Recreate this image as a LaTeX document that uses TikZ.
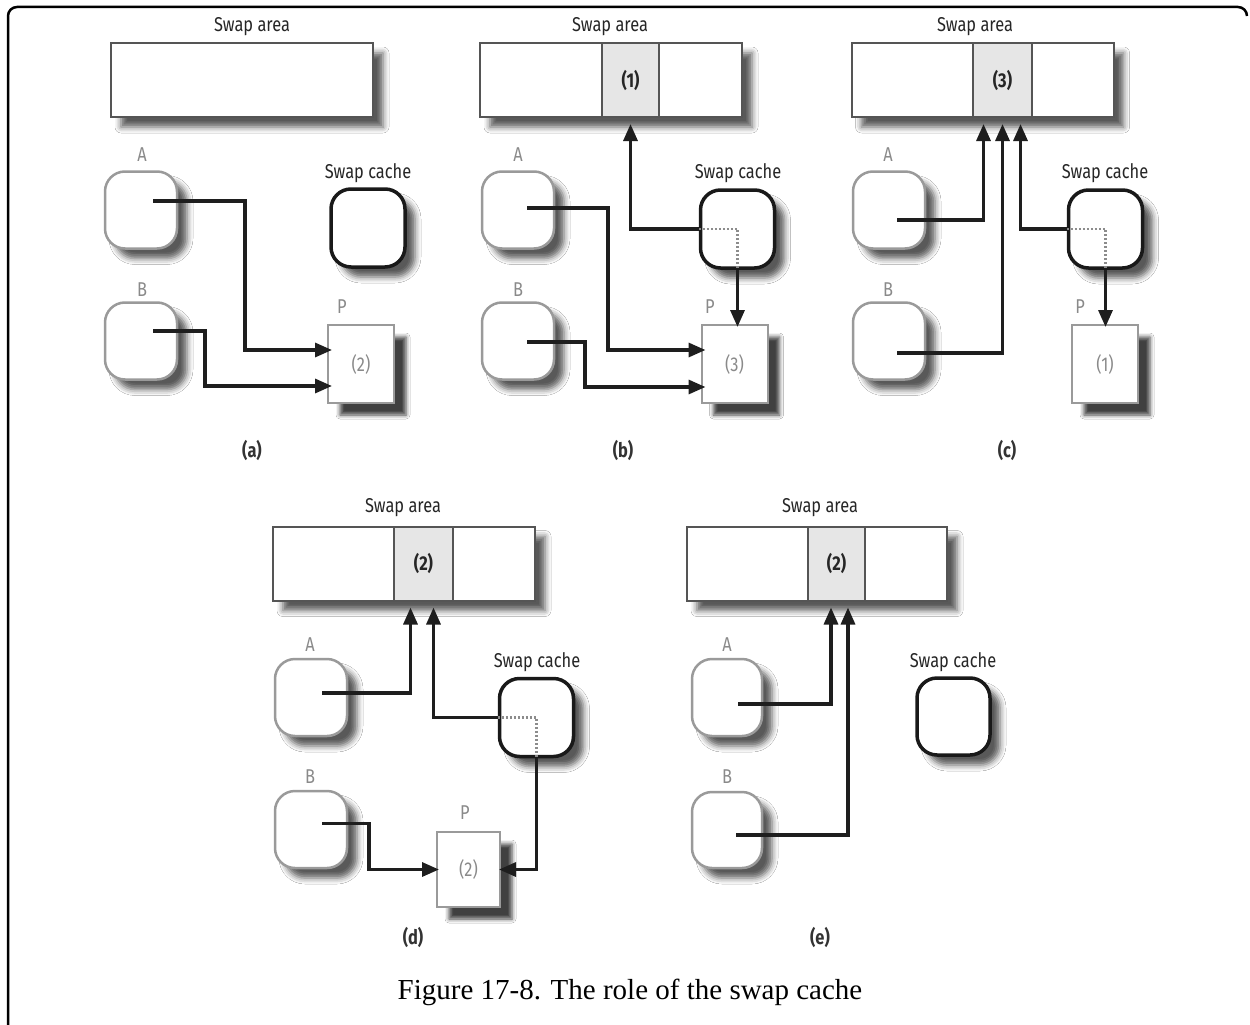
\documentclass[tikz,border=0pt]{standalone}
\usepackage{fontspec}
\usetikzlibrary{arrows.meta,calc,shadows.blur}
\newfontfamily\lblfont[FakeStretch=0.82]{Fira Sans}
\newfontfamily\capfont{Liberation Serif}
\definecolor{conncol}{HTML}{1E1E1E}
\definecolor{procol}{HTML}{9A9A9A}
\definecolor{areacol}{HTML}{555555}
\definecolor{slotcol}{HTML}{E6E6E6}
\definecolor{txtgray}{HTML}{8A8A8A}
\tikzset{
  lbl/.style={font=\lblfont\fontsize{20}{20}\selectfont, text=black!85, inner sep=0pt},
  glbl/.style={lbl, text=txtgray},
  plbl/.style={font=\lblfont\bfseries\fontsize{20}{20}\selectfont, text=black!80, inner sep=0pt},
  shad/.style={blur shadow={shadow xshift=10pt, shadow yshift=-10pt, shadow blur radius=6pt, shadow opacity=65}},
  proc/.style={shad, draw=procol, line width=2.5pt, rounded corners=20pt, fill=white, minimum width=72pt, minimum height=77pt, inner sep=0pt},
  cache/.style={shad, draw=black!90, line width=3.5pt, rounded corners=20pt, fill=white, minimum width=74pt, minimum height=78pt, inner sep=0pt},
  page/.style={blur shadow={shadow xshift=12pt, shadow yshift=-12pt, shadow blur radius=4pt, shadow opacity=75}, draw=procol, line width=2pt, fill=white, minimum width=66pt, minimum height=78pt, inner sep=0pt, font=\lblfont\fontsize{20}{20}\selectfont, text=txtgray},
  area/.style={shad, draw=areacol, line width=2pt, fill=white, minimum width=262pt, minimum height=74pt, inner sep=0pt},
  slot/.style={draw=areacol, line width=2pt, fill=slotcol, minimum height=74pt, inner sep=0pt, font=\lblfont\bfseries\fontsize{20}{20}\selectfont, text=black!85},
  conn/.style={line width=3.2pt, draw=conncol, -{Triangle[length=17pt,width=14pt]}},
  dots/.style={draw=black!45, line width=2.5pt, dash pattern=on 2pt off 2pt},
  frame/.style={line width=2.5pt, draw=black, rounded corners=9pt}
}
\begin{document}
\begin{tikzpicture}[x=1pt,y=-1pt]
\useasboundingbox (0,0) rectangle (1250,1025);
\fill[white] (0,0) rectangle (1250,1025);
\draw[frame] (8,1040) -- (8,7) -- (1247,7) -- (1247,16);

% ---------- (a)
\node[lbl] (aSAl) at (252,27) {Swap area};
\node[area] (aSA) at (242,80) {};
\node[glbl] (aAl) at (142,155) {A};
\node[proc] (aA) at (141,210) {};
\node[glbl] (aBl) at (142,290) {B};
\node[proc] (aB) at (141,341) {};
\node[lbl] (aSCl) at (368,173) {Swap cache};
\node[cache] (aSC) at (368,228) {};
\node[glbl] (aPl) at (342,307) {P};
\node[page] (aP) at (361,364) {(2)};
\draw[conn] ($(aA.center)+(12,-9)$) -| (245,350) -- ($(aP.west|-0,350)+(5,0)$);
\draw[conn] ($(aB.center)+(12,-10)$) -| (205,386) -- ($(aP.west|-0,386)+(5,0)$);
\node[plbl] (aL) at (252,450) {(a)};

% ---------- (b)
\node[lbl] (bSAl) at (610,27) {Swap area};
\node[area] (bSA) at (611,80) {};
\node[slot, minimum width=57pt] (bS) at (630.5,80) {(1)};
\node[glbl] (bAl) at (518,155) {A};
\node[proc] (bA) at (518,210) {};
\node[glbl] (bBl) at (518,290) {B};
\node[proc] (bB) at (518,341) {};
\node[lbl] (bSCl) at (738,173) {Swap cache};
\node[cache] (bSC) at (737.5,229) {};
\node[glbl] (bPl) at (710,307) {P};
\node[page] (bP) at (734.5,364) {(3)};
\draw[conn] ($(bA.center)+(9,-2)$) -| (608,350) -- ($(bP.west|-0,350)+(5,0)$);
\draw[conn] ($(bB.center)+(9,1)$) -| (585,387) -- ($(bP.west|-0,387)+(5,0)$);
\draw[conn] (bSC.west) -| ($(bS.south)+(0,6)$);
\draw[dots] (bSC.west) -- (bSC.center) -- (bSC.south);
\draw[conn] (bSC.south) -- ($(bSC.south|-bP.north)+(0,3)$);
\node[plbl] (bL) at (623,450) {(b)};

% ---------- (c)
\node[lbl] (cSAl) at (975,27) {Swap area};
\node[area] (cSA) at (982.5,80) {};
\node[slot, minimum width=59pt] (cS) at (1002.5,80) {(3)};
\node[glbl] (cAl) at (888,155) {A};
\node[proc] (cA) at (889,210) {};
\node[glbl] (cBl) at (888,290) {B};
\node[proc] (cB) at (889,341) {};
\node[lbl] (cSCl) at (1105,173) {Swap cache};
\node[cache] (cSC) at (1105.5,229) {};
\node[glbl] (cPl) at (1080,307) {P};
\node[page] (cP) at (1105,364) {(1)};
\draw[conn] ($(cA.center)+(8,10)$) -| ($(cS.south)+(-19,6)$);
\draw[conn] ($(cB.center)+(8,12)$) -| ($(cS.south)+(0,6)$);
\draw[conn] (cSC.west) -| ($(cS.south)+(18,6)$);
\draw[dots] (cSC.west) -- (cSC.center) -- (cSC.south);
\draw[conn] (cSC.south) -- ($(cSC.south|-cP.north)+(0,3)$);
\node[plbl] (cL) at (1007,450) {(c)};

% ---------- (d)
\node[lbl] (dSAl) at (403,508) {Swap area};
\node[area] (dSA) at (404,563.5) {};
\node[slot, minimum width=59pt] (dS) at (423.5,563.5) {(2)};
\node[glbl] (dAl) at (310,645) {A};
\node[proc] (dA) at (311,697.5) {};
\node[glbl] (dBl) at (310,777) {B};
\node[proc] (dB) at (311,829.5) {};
\node[lbl] (dSCl) at (537,662) {Swap cache};
\node[cache] (dSC) at (536.5,717.5) {};
\node[glbl] (dPl) at (465,813) {P};
\node[page, minimum width=63pt, minimum height=75pt] (dP) at (468.5,869.5) {(2)};
\draw[conn] ($(dA.center)+(11,-4.5)$) -| ($(dS.south)+(-13,6)$);
\draw[conn] (dSC.west) -| ($(dS.south)+(10,6)$);
\draw[dots] (dSC.west) -- (dSC.center) -- (dSC.south);
\draw[conn] (dSC.south) |- ($(dP.east)+(-2,0)$);
\draw[conn] ($(dB.center)+(11,-6)$) -| ($(dP.west)+(-67,0)$) -- ($(dP.west)+(3,0)$);
\node[plbl] (dL) at (413,937) {(d)};

% ---------- (e)
\node[lbl] (eSAl) at (820,508) {Swap area};
\node[area, minimum width=260pt] (eSA) at (817,563.5) {};
\node[slot, minimum width=57pt] (eS) at (836.5,563.5) {(2)};
\node[glbl] (eAl) at (727,645) {A};
\node[proc, minimum width=70pt] (eA) at (727,697.5) {};
\node[glbl] (eBl) at (727,777) {B};
\node[proc, minimum width=70pt, minimum height=76pt] (eB) at (727,830) {};
\node[lbl] (eSCl) at (953,662) {Swap cache};
\node[cache, minimum width=73pt, minimum height=77pt] (eSC) at (953.5,716.5) {};
\draw[conn] ($(eA.center)+(11,6.5)$) -| ($(eS.south)+(-5.5,6)$);
\draw[conn] ($(eB.center)+(9,5)$) -| ($(eS.south)+(11.5,6)$);
\node[plbl] (eL) at (820,937) {(e)};

% ---------- caption
\node[font=\capfont\fontsize{29}{29}\selectfont, inner sep=0pt] (cap) at (630,992) {Figure 17-8. The role of the swap cache};
\end{tikzpicture}
\end{document}
